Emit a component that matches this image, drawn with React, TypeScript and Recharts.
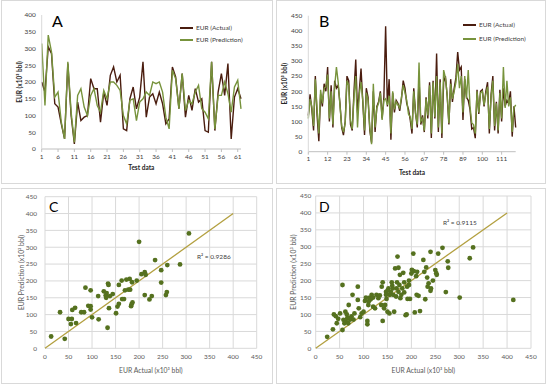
import {
  CartesianGrid,
  Label,
  Legend,
  Line,
  LineChart,
  ReferenceDot,
  ReferenceLine,
  Scatter,
  ScatterChart,
  XAxis,
  YAxis,
} from 'recharts';

const FONT = 'Lato, "Open Sans", sans-serif';
const ACTUAL = '#4a1d0f';
const PRED = '#77933c';
const DOT = '#55711f';
const FIT = '#b3a040';
const FRAME = '#d9d9d9';

// A: test set of the first model (62 wells)
const eurActualA = [200, 170, 305, 285, 135, 125, 75, 30, 255, 100, 15, 140, 85, 95, 100, 210, 180, 180, 80, 170, 130, 220, 245, 200, 220, 60, 55, 150, 185, 120, 155, 260, 95, 155, 165, 135, 170, 135, 75, 90, 245, 215, 120, 225, 95, 160, 115, 180, 140, 150, 55, 50, 260, 55, 170, 225, 160, 255, 30, 155, 180, 150];
const eurPredA = [315, 130, 340, 290, 155, 170, 80, 30, 260, 110, 20, 160, 180, 125, 100, 160, 180, 130, 110, 175, 150, 200, 200, 190, 175, 100, 75, 145, 150, 85, 140, 150, 170, 160, 200, 195, 200, 170, 95, 60, 235, 210, 120, 225, 115, 145, 135, 170, 190, 120, 110, 90, 260, 60, 160, 160, 200, 165, 110, 185, 205, 120];

// B: test set of the second model (119 wells)
const eurActualB = [120, 190, 140, 70, 250, 120, 35, 190, 150, 225, 200, 280, 100, 220, 80, 235, 210, 220, 160, 80, 55, 100, 250, 235, 90, 70, 200, 305, 130, 200, 275, 165, 55, 210, 180, 70, 30, 200, 65, 150, 165, 200, 110, 180, 415, 150, 240, 40, 195, 130, 170, 160, 135, 175, 235, 210, 160, 140, 105, 60, 210, 130, 80, 240, 90, 120, 65, 180, 110, 230, 45, 235, 110, 325, 65, 240, 45, 230, 250, 185, 90, 240, 165, 210, 245, 330, 270, 280, 105, 240, 180, 170, 140, 75, 80, 45, 205, 125, 200, 205, 150, 200, 230, 60, 190, 250, 70, 165, 60, 205, 100, 210, 150, 170, 160, 200, 50, 150, 80];
const eurPredB = [110, 175, 150, 85, 240, 140, 60, 205, 160, 210, 215, 255, 110, 200, 90, 215, 280, 230, 155, 85, 65, 95, 235, 220, 105, 75, 180, 250, 80, 190, 230, 170, 70, 195, 170, 80, 25, 225, 80, 145, 160, 195, 105, 170, 175, 155, 185, 60, 200, 140, 165, 155, 145, 180, 220, 195, 170, 125, 115, 75, 200, 125, 90, 295, 100, 110, 70, 175, 120, 220, 60, 230, 115, 250, 80, 230, 60, 270, 245, 190, 95, 225, 175, 200, 230, 290, 210, 250, 130, 250, 175, 270, 150, 95, 90, 60, 200, 130, 195, 200, 155, 190, 215, 75, 180, 235, 85, 160, 70, 195, 110, 280, 145, 235, 150, 180, 65, 145, 155];

// C: actual vs predicted, first model
const cActual = [13, 42, 32, 50, 57, 55, 66, 58, 64, 77, 83, 86, 97, 92, 97, 100, 97, 114, 113, 125, 129, 131, 134, 135, 133, 136, 144, 138, 130, 151, 154, 157, 164, 168, 157, 163, 173, 177, 181, 180, 183, 184, 186, 185, 195, 200, 205, 212, 214, 212, 222, 227, 234, 247, 247, 257, 259, 260, 287, 306, 170];
const cPred = [35, 28, 107, 87, 87, 72, 75, 114, 120, 107, 107, 180, 172, 126, 125, 92, 115, 86, 155, 169, 157, 164, 192, 188, 61, 119, 161, 155, 150, 104, 124, 132, 146, 146, 188, 201, 204, 174, 174, 206, 125, 131, 136, 196, 201, 316, 220, 226, 218, 158, 145, 155, 262, 232, 195, 158, 167, 247, 249, 341, 172];

// D: actual vs predicted, second model
const dActual = [24, 36, 38, 42, 44, 47, 51, 56, 56, 58, 60, 62, 63, 66, 68, 69, 72, 75, 77, 79, 81, 88, 88, 90, 93, 96, 100, 103, 105, 108, 108, 110, 111, 113, 117, 120, 124, 127, 131, 134, 137, 138, 140, 140, 143, 145, 147, 147, 148, 150, 152, 154, 155, 157, 159, 161, 162, 164, 166, 168, 169, 170, 171, 173, 173, 175, 176, 177, 179, 181, 183, 185, 188, 190, 191, 192, 195, 197, 200, 201, 204, 205, 207, 210, 211, 212, 215, 218, 225, 227, 229, 231, 233, 234, 236, 240, 241, 250, 252, 253, 256, 265, 272, 276, 277, 301, 322, 329, 413, 65, 70, 115, 150, 160, 185, 195, 240, 245, 120];
const dPred = [34, 56, 100, 95, 74, 87, 103, 187, 54, 84, 74, 108, 79, 89, 74, 128, 85, 94, 158, 85, 103, 182, 143, 118, 92, 103, 108, 140, 150, 81, 71, 128, 139, 150, 158, 123, 118, 158, 148, 156, 128, 182, 195, 81, 118, 128, 167, 158, 146, 108, 177, 103, 158, 167, 195, 177, 158, 108, 236, 153, 177, 195, 271, 238, 167, 187, 217, 148, 158, 177, 223, 195, 98, 100, 182, 146, 187, 146, 221, 232, 280, 228, 106, 213, 158, 226, 155, 110, 261, 226, 145, 239, 209, 182, 192, 285, 177, 231, 222, 217, 280, 297, 166, 257, 238, 150, 266, 298, 143, 100, 90, 145, 170, 185, 165, 200, 170, 200, 150];

const ticks400 = [0, 50, 100, 150, 200, 250, 300, 350, 400];
const ticks450 = [0, 50, 100, 150, 200, 250, 300, 350, 400, 450];

const toRows = (act: number[], pred: number[]) =>
  act.map((a, i) => ({ idx: i + 1, actual: a, pred: pred[i] }));
const toPoints = (xs: number[], ys: number[]) => xs.map((x, i) => ({ x, y: ys[i] }));

const tickStyle = { fontSize: 6.5, fill: '#404040', fontFamily: FONT };
const boldTitle = { fontSize: 6.5, fontWeight: 700, fill: '#262626', fontFamily: FONT };
const plainTitle = { fontSize: 6.8, fill: '#595959', fontFamily: FONT };

const SeriesLegend = ({ rowHeight }: { rowHeight: number }) => (
  <div style={{ fontFamily: FONT, fontSize: 6.5, color: '#404040', lineHeight: `${rowHeight}px` }}>
    {[
      ['EUR (Actual)', ACTUAL],
      ['EUR (Prediction)', PRED],
    ].map(([name, c]) => (
      <div key={name} style={{ display: 'flex', alignItems: 'center', whiteSpace: 'nowrap' }}>
        <span style={{ display: 'inline-block', width: 13, height: 2, background: c, marginRight: 3 }} />
        {name}
      </div>
    ))}
  </div>
);

type SeriesProps = {
  rows: { idx: number; actual: number; pred: number }[];
  ticks: number[];
  interval: number;
  width: number;
  height: number;
  margin: { top: number; right: number; bottom: number; left: number };
  yWidth: number;
  xHeight: number;
  yTitleOffset: number;
  xTitleOffset: number;
  legend: { left: number; top: number; row: number };
};

const SeriesChart = (p: SeriesProps) => (
  <LineChart width={p.width} height={p.height} data={p.rows} margin={p.margin}>
    <XAxis
      dataKey="idx"
      interval={p.interval}
      height={p.xHeight}
      stroke="#bfbfbf"
      tickSize={3}
      tickMargin={2}
      tick={tickStyle}
    >
      <Label value="Test data" position="insideBottom" offset={p.xTitleOffset} style={boldTitle} />
    </XAxis>
    <YAxis
      width={p.yWidth}
      domain={[0, p.ticks[p.ticks.length - 1]]}
      ticks={p.ticks}
      interval={0}
      stroke="#d9d9d9"
      tickLine={false}
      tickSize={4}
      tickMargin={2}
      tick={tickStyle}
    >
      <Label
        value="EUR (x10³ bbl)"
        angle={-90}
        position="insideLeft"
        offset={p.yTitleOffset}
        style={{ ...boldTitle, textAnchor: 'middle' }}
      />
    </YAxis>
    <Legend
      layout="vertical"
      align="center"
      verticalAlign="middle"
      content={<SeriesLegend rowHeight={p.legend.row} />}
      wrapperStyle={{ left: p.legend.left, top: p.legend.top, width: 90 }}
    />
    <Line dataKey="actual" stroke={ACTUAL} strokeWidth={1.4} dot={false} isAnimationActive={false} />
    <Line dataKey="pred" stroke={PRED} strokeWidth={1.4} dot={false} isAnimationActive={false} />
  </LineChart>
);

type ScatterProps = {
  points: { x: number; y: number }[];
  width: number;
  height: number;
  margin: { top: number; right: number; bottom: number; left: number };
  yWidth: number;
  xHeight: number;
  yTickGap: [number, number];
  yTitleOffset: number;
  xTitleOffset: number;
  r2: string;
  r2At: { x: number; y: number };
};

const dotShape = (props: any) => <circle cx={props.cx} cy={props.cy} r={2.4} fill={DOT} />;

const ParityChart = (p: ScatterProps) => (
  <ScatterChart width={p.width} height={p.height} margin={p.margin}>
    <CartesianGrid stroke="#d9d9d9" />
    <XAxis
      type="number"
      dataKey="x"
      domain={[0, 450]}
      ticks={ticks450}
      interval={0}
      height={p.xHeight}
      axisLine={false}
      tickLine={false}
      tickSize={4}
      tickMargin={2}
      tick={{ ...tickStyle, fill: '#595959' }}
    >
      <Label value="EUR Actual (x10³ bbl)" position="insideBottom" offset={p.xTitleOffset} style={plainTitle} />
    </XAxis>
    <YAxis
      type="number"
      dataKey="y"
      domain={[0, 450]}
      ticks={ticks450}
      interval={0}
      width={p.yWidth}
      axisLine={false}
      tickLine={false}
      tickSize={p.yTickGap[0]}
      tickMargin={p.yTickGap[1]}
      tick={{ ...tickStyle, fill: '#595959' }}
    >
      <Label
        value="EUR Prediction (x10³ bbl)"
        angle={-90}
        position="insideLeft"
        offset={p.yTitleOffset}
        style={{ ...plainTitle, textAnchor: 'middle' }}
      />
    </YAxis>
    <Scatter data={p.points} shape={dotShape} isAnimationActive={false} />
    <ReferenceLine
      segment={[
        { x: 0, y: 0 },
        { x: 400, y: 400 },
      ]}
      stroke={FIT}
      strokeWidth={1.3}
      ifOverflow="visible"
    />
    <ReferenceDot
      x={p.r2At.x}
      y={p.r2At.y}
      r={0}
      fill="none"
      stroke="none"
      label={{ value: p.r2, position: 'right', offset: 0, style: { ...tickStyle, fill: '#404040' } }}
    />
  </ScatterChart>
);

const frame = (left: number, top: number, width: number, height: number) => ({
  position: 'absolute' as const,
  left,
  top,
  width,
  height,
  boxSizing: 'border-box' as const,
  border: `1px solid ${FRAME}`,
});

const place = (left: number, top: number) => ({ position: 'absolute' as const, left, top });

const letter = (left: number, top: number, size: number) => ({
  position: 'absolute' as const,
  left,
  top,
  fontFamily: FONT,
  fontSize: size,
  color: '#000',
  lineHeight: 1,
});

export default function App() {
  return (
    <div style={{ position: 'absolute', left: 0, top: 0, width: 550, height: 389, background: '#fff', overflow: 'hidden' }}>
      <div style={frame(1, 0, 272, 184)} />
      <div style={frame(276, 0, 270, 184)} />
      <div style={frame(1, 188, 272, 196)} />
      <div style={frame(276, 188, 270, 196)} />

      <div style={place(1, 1)}>
        <SeriesChart
          rows={toRows(eurActualA, eurPredA)}
          ticks={ticks400}
          interval={4}
          width={271}
          height={182}
          margin={{ top: 14, right: 31, bottom: 0, left: 0 }}
          yWidth={40.7}
          xHeight={34}
          yTitleOffset={19}
          xTitleOffset={13}
          legend={{ left: 179, top: 21, row: 12 }}
        />
      </div>
      <div style={place(277, 1)}>
        <SeriesChart
          rows={toRows(eurActualB, eurPredB)}
          ticks={ticks450}
          interval={10}
          width={268}
          height={182}
          margin={{ top: 14.7, right: 29.3, bottom: 0, left: 0 }}
          yWidth={31.3}
          xHeight={31.3}
          yTitleOffset={8}
          xTitleOffset={8.5}
          legend={{ left: 186, top: 17, row: 14 }}
        />
      </div>
      <div style={place(1, 188)}>
        <ParityChart
          points={toPoints(cActual, cPred)}
          width={271}
          height={195}
          margin={{ top: 8.7, right: 15.3, bottom: 0, left: 0 }}
          yWidth={44}
          xHeight={34.7}
          yTickGap={[5, 3]}
          yTitleOffset={20.7}
          xTitleOffset={10.3}
          r2="R² = 0.9286"
          r2At={{ x: 323, y: 272 }}
        />
      </div>
      <div style={place(277, 188)}>
        <ParityChart
          points={toPoints(dActual, dPred)}
          width={268}
          height={195}
          margin={{ top: 8, right: 14, bottom: 0, left: 0 }}
          yWidth={38.7}
          xHeight={34.7}
          yTickGap={[3, 1.5]}
          yTitleOffset={16.5}
          xTitleOffset={10.3}
          r2="R² = 0.9115"
          r2At={{ x: 266, y: 370 }}
        />
      </div>

      <div style={letter(52, 13, 16)}>A</div>
      <div style={letter(319, 13, 16)}>B</div>
      <div style={letter(49, 200, 14)}>C</div>
      <div style={letter(319, 200, 14)}>D</div>
    </div>
  );
}
